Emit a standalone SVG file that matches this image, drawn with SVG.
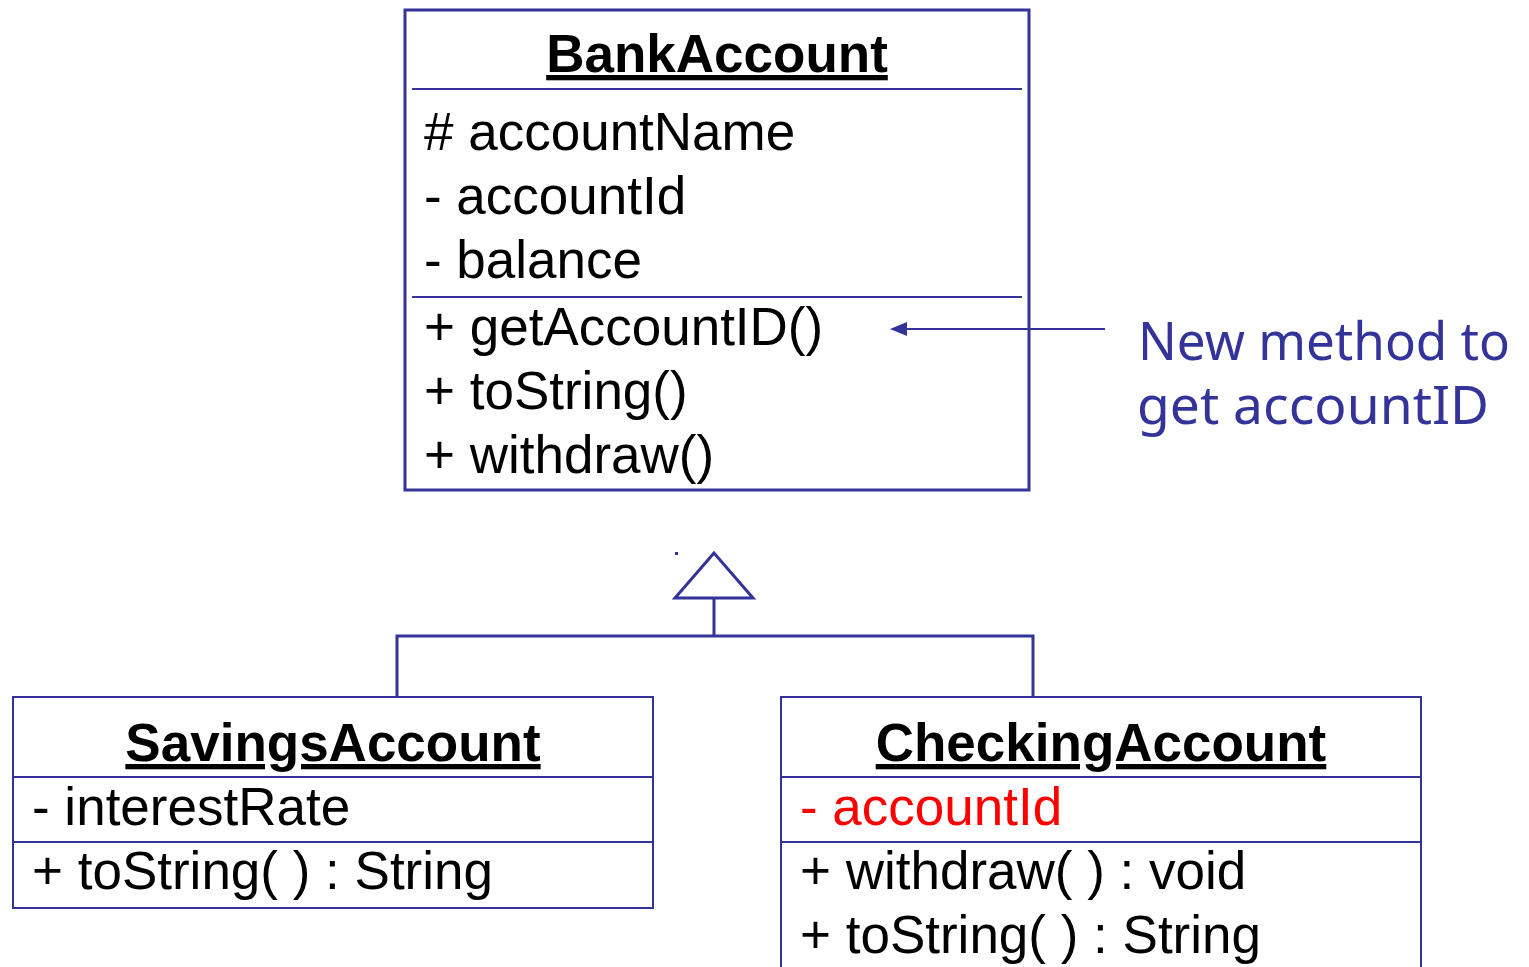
<svg xmlns="http://www.w3.org/2000/svg" width="1529" height="967" viewBox="0 0 1529 967">
<style>
.box{fill:#fff;stroke:#333399;}
.div{stroke:#333399;stroke-width:2;}
.t{font-family:"Liberation Sans",Arial,sans-serif;font-size:53px;fill:#000;}
.title{font-family:"Liberation Sans",Arial,sans-serif;font-size:53px;font-weight:bold;fill:#000;text-decoration:underline;text-anchor:middle;}
.conn{stroke:#333399;stroke-width:3;fill:none;}
.note{font-family:"Comic Sans MS","Noto Sans",sans-serif;font-size:52px;fill:#333399;}
</style>
<rect width="1529" height="967" fill="#fff"/>
<g id="BankAccount">
<rect class="box" x="405" y="10" width="624" height="480" stroke-width="3"/>
<line class="div" x1="412" y1="89" x2="1022" y2="89"/>
<line class="div" x1="412" y1="297" x2="1022" y2="297"/>
<text class="title" x="717" y="72">BankAccount</text>
<text class="t" x="424" y="150"># accountName</text>
<text class="t" x="424" y="214">- accountId</text>
<text class="t" x="424" y="278">- balance</text>
<text class="t" x="424" y="345">+ getAccountID()</text>
<text class="t" x="424" y="409">+ toString()</text>
<text class="t" x="424" y="473">+ withdraw()</text>
</g>
<g id="note">
<text class="note" x="1138" y="360" textLength="372" lengthAdjust="spacingAndGlyphs">New method to</text>
<text class="note" x="1137" y="424" textLength="352" lengthAdjust="spacingAndGlyphs">get accountID</text>
</g>
<g id="SavingsAccount">
<rect class="box" x="13" y="697" width="640" height="211" stroke-width="2"/>
<line class="div" x1="13" y1="777" x2="653" y2="777"/>
<line class="div" x1="13" y1="842" x2="653" y2="842"/>
<text class="title" x="333" y="761">SavingsAccount</text>
<text class="t" x="32" y="825">- interestRate</text>
<text class="t" x="32" y="889">+ toString( ) : String</text>
</g>
<g id="CheckingAccount">
<rect class="box" x="781" y="697" width="640" height="290" stroke-width="2"/>
<line class="div" x1="781" y1="777" x2="1421" y2="777"/>
<line class="div" x1="781" y1="842" x2="1421" y2="842"/>
<text class="title" x="1101" y="761">CheckingAccount</text>
<text class="t" x="800" y="825" style="fill:#ff0000">- accountId</text>
<text class="t" x="800" y="889">+ withdraw( ) : void</text>
<text class="t" x="800" y="953">+ toString( ) : String</text>
</g>
<g id="connectors">
<polyline class="conn" points="397,697 397,636 1033,636 1033,697"/>
<line class="conn" x1="714" y1="636" x2="714" y2="598"/>
<polygon class="conn" points="714,553 675,598 753,598" fill="#fff" style="fill:#fff"/>
<rect x="675" y="552" width="3" height="3" fill="#333399"/>
<line x1="1105" y1="329" x2="904" y2="329" stroke="#333399" stroke-width="2"/>
<polygon points="890,329 907,322 907,336" fill="#333399"/>
</g>
</svg>
